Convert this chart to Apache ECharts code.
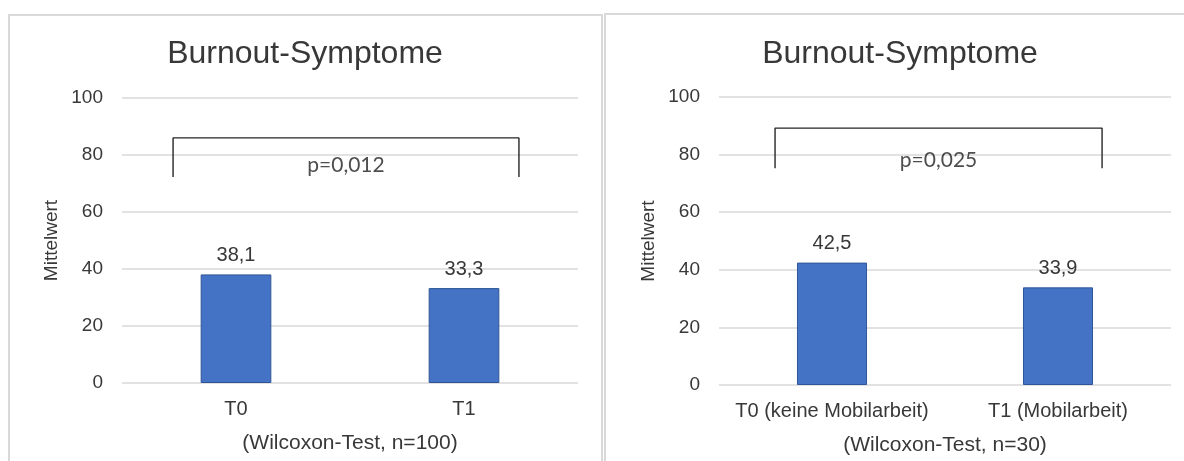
<!DOCTYPE html>
<html>
<head>
<meta charset="utf-8">
<title>Burnout-Symptome</title>
<script src="https://cdn.jsdelivr.net/npm/echarts@6/dist/echarts.min.js"></script>
<style>
  html, body { margin: 0; padding: 0; background: #ffffff; }
  #chart { width: 1184px; height: 461px; }
</style>
</head>
<body>
<div id="chart"></div>
<script>
// Mean burnout scores, two measurement points per study group
const chartTitle = 'Burnout-Symptome';
const yAxisLabel = 'Mittelwert';
const categoriesA = ['T0', 'T1'];
const valuesA = [38.1, 33.3];
const categoriesB = ['T0 (keine Mobilarbeit)', 'T1 (Mobilarbeit)'];
const valuesB = [42.5, 33.9];
const testNotes = ['(Wilcoxon-Test, n=100)', '(Wilcoxon-Test, n=30)'];
const pLabels = ['p=0,012', 'p=0,025'];
const yMin = 0, yMax = 100, yStep = 20;

// Significance brackets, in axis units (x on a -0.5..1.5 span matching the two categories)
const brackets = [
  { x0: -0.276, x1: 1.241, low: 72.3, high: 86.0, labelY: 76.5 },
  { x0: -0.252, x1: 1.195, low: 75.3, high: 89.2, labelY: 78.1 }
];

const TEXT = '#383838';
const GRID = '#d9d9d9';
const BAR = '#4472C4';
const FONT = '"Liberation Sans", Arial, sans-serif';

const fmt = v => v.toFixed(1).replace('.', ',');

const chart = echarts.init(document.getElementById('chart'), null, { renderer: 'canvas' });

const grids = [
  { left: 122, right: 606, top: 98, bottom: 78 },
  { left: 719, right: 13, top: 97, bottom: 76 }
];

function catAxis(gridIndex, cats, note) {
  return {
    type: 'category', gridIndex, data: cats,
    axisLine: { show: false }, axisTick: { show: false },
    axisLabel: { color: TEXT, fontFamily: FONT, fontSize: 20, margin: 16, interval: 0 },
    name: note, nameLocation: 'middle', nameGap: 50,
    nameTextStyle: { color: TEXT, fontFamily: FONT, fontSize: 21 }
  };
}
function spanAxis(gridIndex) {
  return { type: 'value', gridIndex, min: -0.5, max: 1.5, show: false };
}
function valAxis(gridIndex) {
  return {
    type: 'value', gridIndex, min: yMin, max: yMax, interval: yStep,
    axisLine: { show: false }, axisTick: { show: false },
    axisLabel: { color: TEXT, fontFamily: FONT, fontSize: 19, margin: 19 },
    splitLine: { lineStyle: { color: GRID, width: 1.5 } },
    name: yAxisLabel, nameLocation: 'middle', nameGap: 61,
    nameTextStyle: { color: TEXT, fontFamily: FONT, fontSize: 19 }
  };
}
function barSeries(i, values) {
  return {
    type: 'bar', xAxisIndex: i, yAxisIndex: i, data: values,
    barWidth: '31%',
    itemStyle: { color: BAR, borderColor: '#2F5597', borderWidth: 1 },
    label: {
      show: true, position: 'top', distance: 9,
      color: TEXT, fontFamily: FONT, fontSize: 20,
      formatter: p => fmt(p.value)
    },
    silent: true
  };
}
function bracketSeries(i) {
  const b = brackets[i];
  return {
    type: 'line', xAxisIndex: 2 + i, yAxisIndex: i,
    data: [[b.x0, b.low], [b.x0, b.high], [b.x1, b.high], [b.x1, b.low]],
    symbol: 'none', silent: true,
    lineStyle: { color: '#262626', width: 1.4 }
  };
}
function pSeries(i) {
  const b = brackets[i];
  return {
    type: 'scatter', xAxisIndex: 2 + i, yAxisIndex: i,
    data: [[(b.x0 + b.x1) / 2, b.labelY]],
    symbolSize: 0, silent: true,
    label: {
      show: true, position: 'inside', formatter: pLabels[i],
      color: '#202020', fontFamily: 'Lato, "Liberation Sans", sans-serif', fontSize: 21
    }
  };
}

chart.setOption({
  animation: false,
  backgroundColor: '#ffffff',
  graphic: [
    { type: 'rect', shape: { x: 9, y: 15, width: 593, height: 470 },
      style: { fill: 'none', stroke: GRID, lineWidth: 2 }, z: -1 },
    { type: 'rect', shape: { x: 605, y: 14, width: 600, height: 470 },
      style: { fill: 'none', stroke: GRID, lineWidth: 2 }, z: -1 }
  ],
  title: [
    { text: chartTitle, left: 300, top: 33, textAlign: 'center',
      textStyle: { color: TEXT, fontFamily: FONT, fontSize: 32, fontWeight: 'normal' } },
    { text: chartTitle, left: 895, top: 33, textAlign: 'center',
      textStyle: { color: TEXT, fontFamily: FONT, fontSize: 32, fontWeight: 'normal' } }
  ],
  grid: grids,
  xAxis: [catAxis(0, categoriesA, testNotes[0]), catAxis(1, categoriesB, testNotes[1]), spanAxis(0), spanAxis(1)],
  yAxis: [valAxis(0), valAxis(1)],
  series: [
    barSeries(0, valuesA), barSeries(1, valuesB),
    bracketSeries(0), bracketSeries(1),
    pSeries(0), pSeries(1)
  ]
});
</script>
</body>
</html>
